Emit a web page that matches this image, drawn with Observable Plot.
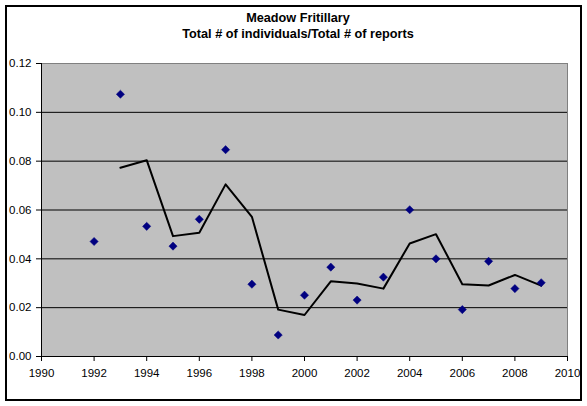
<!DOCTYPE html>
<html>
<head>
<meta charset="utf-8">
<script src="https://cdn.jsdelivr.net/npm/d3@7"></script>
<script src="https://cdn.jsdelivr.net/npm/@observablehq/plot@0.6"></script>
<style>
  html, body { margin: 0; padding: 0; background: #fff; }
  #wrap { position: relative; width: 587px; height: 406px; font-family: "Liberation Sans", Arial, sans-serif; }
  #border { position: absolute; left: 5px; top: 5px; width: 573px; height: 392px; border: 2px solid #000; pointer-events: none; }
  #title { position: absolute; left: 8px; width: 580px; top: 11px; text-align: center; font-weight: bold; font-size: 12.7px; line-height: 15.5px; color: #000; }
  #chart { position: absolute; left: 0; top: 0; }
</style>
</head>
<body>
<div id="wrap">
  <div id="chart"></div>
  <div id="title">Meadow Fritillary<br>Total # of individuals/Total # of reports</div>
  <div id="border"></div>
</div>
<script>
const years = [1992,1993,1994,1995,1996,1997,1998,1999,2000,2001,2002,2003,2004,2005,2006,2007,2008,2009];
const ratios = [0.0471,0.1074,0.0533,0.0452,0.0562,0.0847,0.0296,0.0088,0.0251,0.0366,0.0231,0.0325,0.0601,0.0400,0.0192,0.0390,0.0278,0.0302];
const avgYears = [1993,1994,1995,1996,1997,1998,1999,2000,2001,2002,2003,2004,2005,2006,2007,2008,2009];
const avgValues = [0.0773,0.0804,0.0493,0.0507,0.0705,0.0572,0.0192,0.0170,0.0308,0.0299,0.0278,0.0463,0.0501,0.0296,0.0291,0.0334,0.0290];
const xTicks = [1990,1992,1994,1996,1998,2000,2002,2004,2006,2008,2010];
const yTicks = [0,0.02,0.04,0.06,0.08,0.10,0.12];
const gridValues = [0.02,0.04,0.06,0.08,0.10];

const points = years.map((y, i) => ({year: y, value: ratios[i]}));
const avg = avgYears.map((y, i) => ({year: y, value: avgValues[i]}));

const chart = Plot.plot({
  width: 587,
  height: 406,
  marginLeft: 41,
  marginRight: 20,
  marginTop: 63,
  marginBottom: 50,
  style: {fontFamily: "'Liberation Sans', Arial, sans-serif", fontSize: "11.5px", color: "#000", background: "transparent"},
  x: {domain: [1990, 2010], label: null},
  y: {domain: [0, 0.12], label: null},
  marks: [
    Plot.frame({fill: "#C0C0C0", stroke: "#808080"}),
    Plot.ruleY(gridValues, {stroke: "#000", strokeWidth: 1}),
    Plot.ruleY([0], {stroke: "#000", strokeWidth: 1}),
    Plot.ruleX([1990], {stroke: "#000", strokeWidth: 1}),
    Plot.line(avg, {x: "year", y: "value", stroke: "#000", strokeWidth: 2}),
    Plot.dot(points, {x: "year", y: "value", symbol: "diamond2", r: 3.7, fill: "#000080", stroke: "#000080", strokeWidth: 0.5}),
    Plot.axisX({ticks: xTicks, tickFormat: d => String(d), tickSize: 5, tickPadding: 7, stroke: "#000", fill: "#000"}),
    Plot.axisY({ticks: yTicks, tickFormat: d => d.toFixed(2), tickSize: 5, tickPadding: 5, stroke: "#000", fill: "#000"})
  ]
});
document.getElementById("chart").appendChild(chart);
</script>
</body>
</html>
